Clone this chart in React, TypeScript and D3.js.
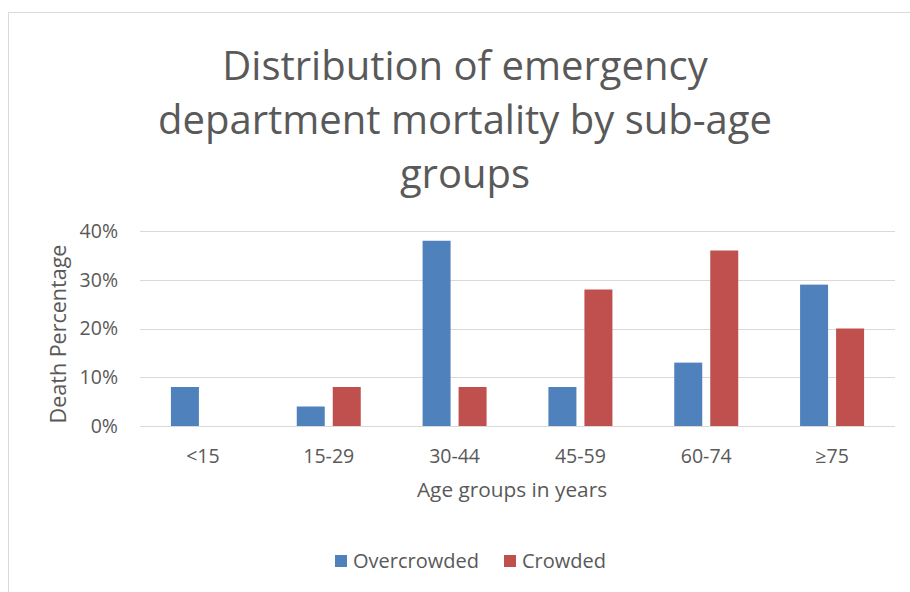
import React from "react";
import * as d3 from "d3";

const categories = ["<15", "15-29", "30-44", "45-59", "60-74", "≥75"];
const seriesNames = ["Overcrowded", "Crowded"];
const overcrowded = [0.08, 0.04, 0.38, 0.08, 0.13, 0.29];
const crowded = [0, 0.08, 0.08, 0.28, 0.36, 0.2];
const yTicks = [0, 0.1, 0.2, 0.3, 0.4];
const titleLines = ["Distribution of emergency", "department mortality by sub-age", "groups"];
const colors = ["#4f81bd", "#c0504d"];

const W = 910;
const H = 592;
const FONT = "'Open Sans', 'Noto Sans', sans-serif";
const TEXT = "#595959";

export default function App() {
  const left = 140, right = 895, top = 231, bottom = 426;
  const x0 = d3.scaleBand<string>().domain(categories).range([left, right]).paddingInner(0).paddingOuter(0);
  const groupW = 64;
  const x1 = d3.scaleBand<string>().domain(seriesNames).range([0, groupW]).paddingInner(8 / 36);
  const y = d3.scaleLinear().domain([0, 0.4]).range([bottom, top]);
  const fmt = d3.format(".0%");
  const data = [overcrowded, crowded];

  return (
    <svg width={W} height={H} style={{ position: "absolute", left: 0, top: 0 }} fontFamily={FONT}>
      <rect x={0} y={0} width={W} height={H} fill="#fff" />
      <rect x={8.5} y={12.5} width={W + 10} height={H + 10} fill="#fff" stroke="#d9d9d9" strokeWidth={1} />
      {titleLines.map((t, i) => (
        <text key={i} x={465} y={80 + i * 54} textAnchor="middle" fontSize={40} fill={TEXT}>
          {t}
        </text>
      ))}
      {yTicks.map((t) => (
        <g key={t}>
          <line x1={left} x2={right} y1={Math.round(y(t)) + 0.5} y2={Math.round(y(t)) + 0.5} stroke="#d9d9d9" strokeWidth={1} />
          <text x={118} y={y(t)} dy="0.35em" textAnchor="end" fontSize={19.5} fill={TEXT}>
            {fmt(t)}
          </text>
        </g>
      ))}
      {categories.map((c, ci) => {
        const gx = (x0(c) as number) + (x0.bandwidth() - groupW) / 2;
        return (
          <g key={c}>
            {seriesNames.map((s, si) => {
              const v = data[si][ci];
              if (!v) return null;
              return (
                <rect
                  key={s}
                  x={gx + (x1(s) as number)}
                  y={y(v)}
                  width={x1.bandwidth()}
                  height={y(0) - y(v)}
                  fill={colors[si]}
                />
              );
            })}
            <text x={(x0(c) as number) + x0.bandwidth() / 2} y={463} textAnchor="middle" fontSize={19.5} fill={TEXT}>
              {c}
            </text>
          </g>
        );
      })}
      <text x={512} y={497} textAnchor="middle" fontSize={20.8} fill={TEXT}>
        Age groups in years
      </text>
      <text transform={`translate(66,334) rotate(-90)`} textAnchor="middle" fontSize={21.5} fill={TEXT}>
        Death Percentage
      </text>
      {seriesNames.map((s, i) => {
        const lx = [335, 504][i];
        return (
          <g key={s}>
            <rect x={lx} y={555} width={12} height={12} fill={colors[i]} />
            <text x={lx + 18} y={568} fontSize={20} fill={TEXT}>
              {s}
            </text>
          </g>
        );
      })}
    </svg>
  );
}
